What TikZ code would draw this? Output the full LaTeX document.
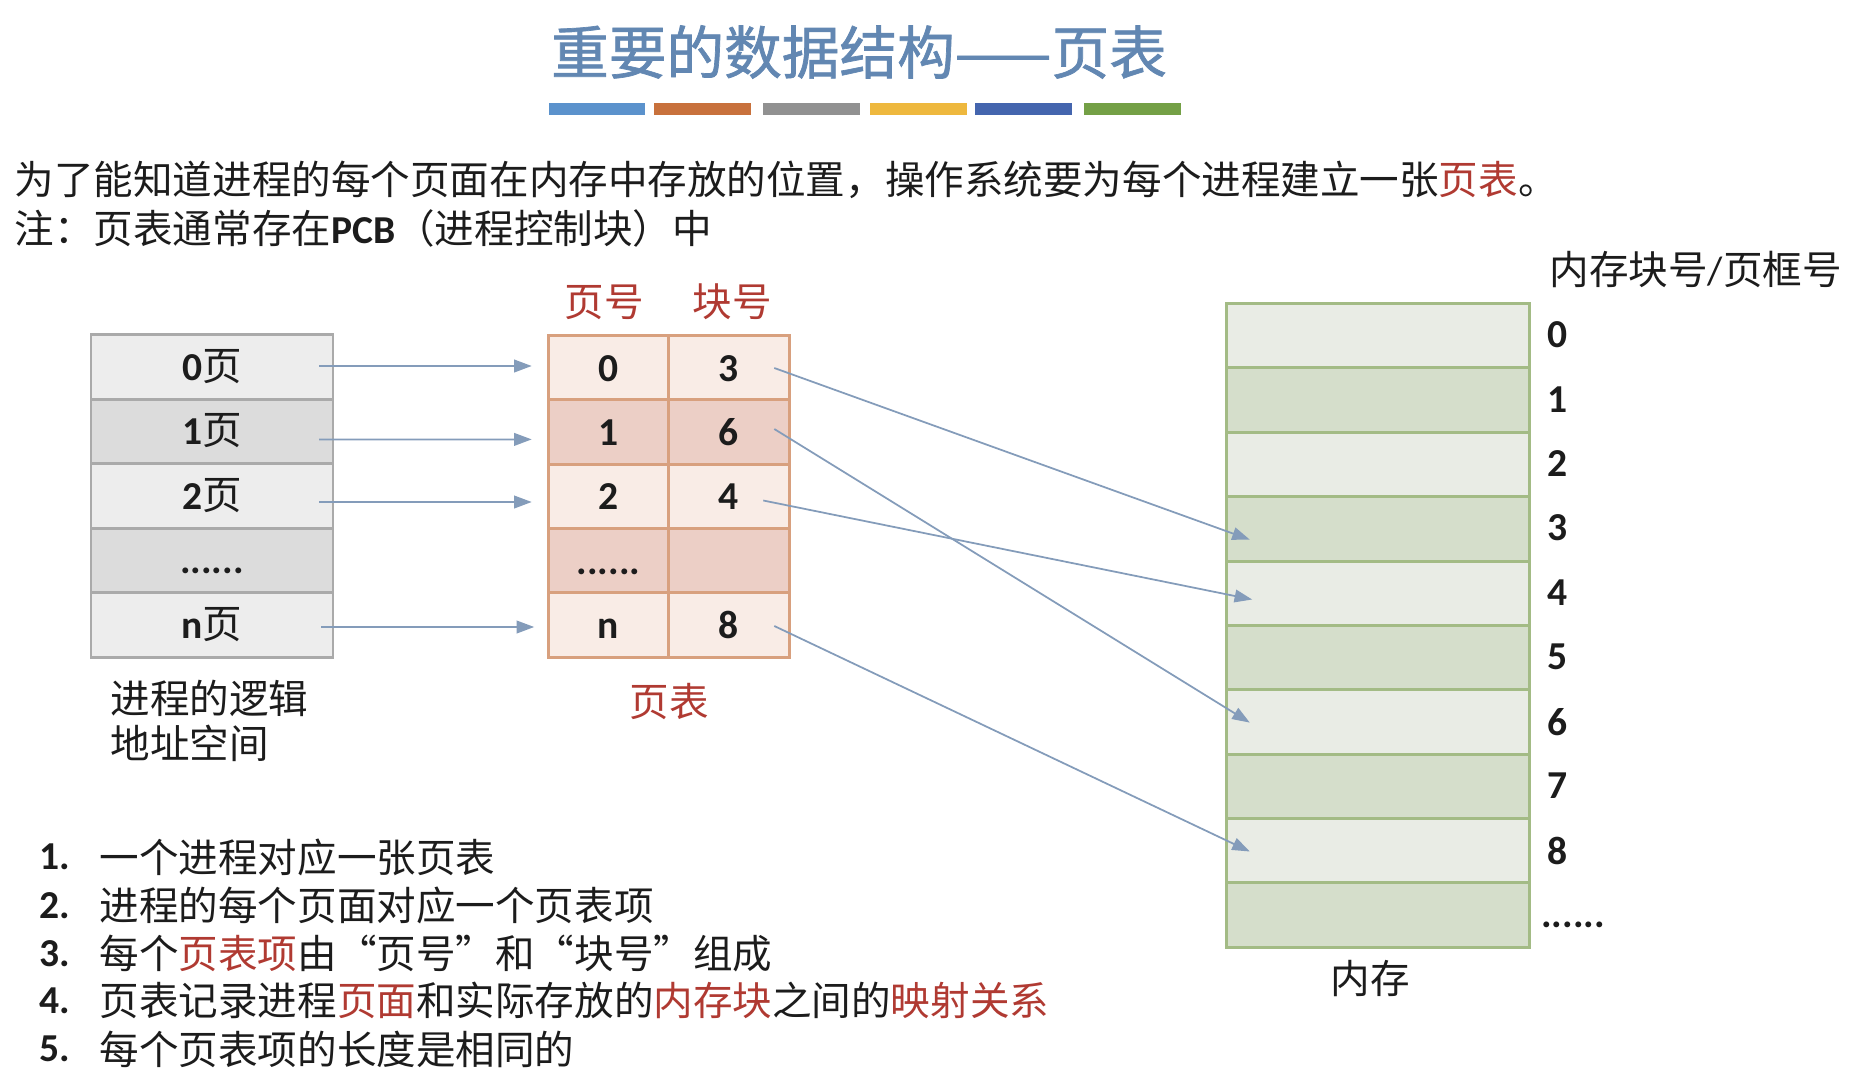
\documentclass[tikz,border=0pt]{standalone}
\usepackage{fontspec}
\setmainfont{Carlito}
\newfontfamily\cjk{Noto Sans CJK SC}
\newfontfamily\cjkhead[FakeBold=1.2]{Noto Sans CJK SC}
\usepackage{xcolor}
\usetikzlibrary{arrows.meta,positioning}
\definecolor{titleblue}{RGB}{98,135,178}
\definecolor{deepred}{RGB}{176,58,50}
\definecolor{inkblack}{RGB}{28,28,28}
\definecolor{arrowblue}{RGB}{132,156,186}
\definecolor{graylight}{RGB}{237,237,237}
\definecolor{graydark}{RGB}{220,220,220}
\definecolor{grayline}{RGB}{170,170,170}
\definecolor{pinklight}{RGB}{249,236,230}
\definecolor{pinkdark}{RGB}{236,207,198}
\definecolor{pinkline}{RGB}{216,160,126}
\definecolor{greenlight}{RGB}{233,236,229}
\definecolor{greendark}{RGB}{213,222,203}
\definecolor{greenline}{RGB}{163,187,133}
\definecolor{barone}{RGB}{91,146,204}
\definecolor{bartwo}{RGB}{200,113,60}
\definecolor{barthree}{RGB}{145,145,145}
\definecolor{barfour}{RGB}{238,184,62}
\definecolor{barfive}{RGB}{68,101,174}
\definecolor{barsix}{RGB}{116,160,70}
\newcommand{\hl}[1]{\textcolor{deepred}{#1}}
\tikzset{
  body/.style={font=\fontsize{11.25}{13}\selectfont,color=inkblack,inner sep=0pt},
  bodybold/.style={font=\fontsize{11.25}{13}\selectfont\bfseries,color=inkblack,inner sep=0pt},
  lefttext/.style={body,anchor=west},
  bartile/.style={inner sep=0pt,minimum width=0.965cm,minimum height=0.12cm},
  cell/.style={bodybold,draw,line width=0.8pt,inner sep=0pt,outer sep=0pt,text height=0.26cm,text depth=0pt},
  pagecell/.style={cell,draw=grayline,minimum width=2.42cm,minimum height=0.646cm},
  tablecell/.style={cell,draw=pinkline,minimum width=1.205cm,minimum height=0.644cm},
  memcell/.style={cell,draw=greenline,minimum width=3.035cm,minimum height=0.644cm},
  maparrow/.style={-{Triangle[length=5pt,width=3.6pt]},line width=0.5pt,arrowblue}
}
\begin{document}
\begin{tikzpicture}[x=0.01cm,y=-0.01cm]
        \useasboundingbox (0,0) rectangle (1852,1079);
        \node[font=\fontsize{16.4}{18}\selectfont\cjkhead,color=titleblue,inner sep=0pt] (title) at (859,52) {重要的数据结构——页表};
        \node[bartile,fill=barone] (bar1) at (597,109) {};
        \node[bartile,fill=bartwo] (bar2) at (702.5,109) {};
        \node[bartile,fill=barthree] (bar3) at (811.5,109) {};
        \node[bartile,fill=barfour] (bar4) at (918.5,109) {};
        \node[bartile,fill=barfive] (bar5) at (1023.5,109) {};
        \node[bartile,fill=barsix] (bar6) at (1132.5,109) {};
        \node[lefttext] (intro) at (14,179.5) {\cjk 为了能知道进程的每个页面在内存中存放的位置，操作系统要为每个进程建立一张\hl{页表}。};
        \node[lefttext] (note) at (14,228) {{\cjk 注：页表通常存在}{\bfseries PCB}{\cjk （进程控制块）中}};

        \node[pagecell,fill=graylight] (page0) at (212,367) {0{\cjk\mdseries 页}};
        \node[pagecell,fill=graydark] (page1) at (212,431.5) {1{\cjk\mdseries 页}};
        \node[pagecell,fill=graylight] (page2) at (212,496) {2{\cjk\mdseries 页}};
        \node[pagecell,fill=graydark] (pagedots) at (212,560.5) {......};
        \node[pagecell,fill=graylight] (pagen) at (212,625) {n{\cjk\mdseries 页}};
        \node[lefttext] (logic1) at (110,698) {\cjk 进程的逻辑};
        \node[lefttext] (logic2) at (110,743) {\cjk 地址空间};

        \node[body,color=deepred] (headpage) at (604.5,302) {\cjk 页号};
        \node[body,color=deepred] (headframe) at (732,302) {\cjk 块号};
        \node[tablecell,fill=pinklight] (num0) at (608.5,368) {0};
        \node[tablecell,fill=pinklight] (frame0) at (729,368) {3};
        \node[tablecell,fill=pinkdark] (num1) at (608.5,432) {1};
        \node[tablecell,fill=pinkdark] (frame1) at (729,432) {6};
        \node[tablecell,fill=pinklight] (num2) at (608.5,496.5) {2};
        \node[tablecell,fill=pinklight] (frame2) at (729,496.5) {4};
        \node[tablecell,fill=pinkdark] (numdots) at (608.5,561) {......};
        \node[tablecell,fill=pinkdark] (framedots) at (729,561) {};
        \node[tablecell,fill=pinklight] (numn) at (608.5,625) {n};
        \node[tablecell,fill=pinklight] (framen) at (729,625) {8};
        \node[body,color=deepred] (tablename) at (669,701.5) {\cjk 页表};

        \node[memcell,fill=greenlight] (mem0) at (1378,335.5) {};
        \node[memcell,fill=greendark] (mem1) at (1378,400) {};
        \node[memcell,fill=greenlight] (mem2) at (1378,464.5) {};
        \node[memcell,fill=greendark] (mem3) at (1378,529) {};
        \node[memcell,fill=greenlight] (mem4) at (1378,593.5) {};
        \node[memcell,fill=greendark] (mem5) at (1378,658) {};
        \node[memcell,fill=greenlight] (mem6) at (1378,722) {};
        \node[memcell,fill=greendark] (mem7) at (1378,786.5) {};
        \node[memcell,fill=greenlight] (mem8) at (1378,850.5) {};
        \node[memcell,fill=greendark] (memdots) at (1378,915) {};
        \node[body] (memname) at (1370,978) {\cjk 内存};
        \node[lefttext] (memhead) at (1549,269.5) {{\cjk 内存块号}/{\cjk 页框号}};
        \node[bodybold] (block0) at (1557,335) {0};
        \node[bodybold] (block1) at (1557,400) {1};
        \node[bodybold] (block2) at (1557,464) {2};
        \node[bodybold] (block3) at (1557,528) {3};
        \node[bodybold] (block4) at (1557,593) {4};
        \node[bodybold] (block5) at (1557,657) {5};
        \node[bodybold] (block6) at (1557,722) {6};
        \node[bodybold] (block7) at (1557,786) {7};
        \node[bodybold] (block8) at (1557,851) {8};
        \node[bodybold] (blockdots) at (1573,925) {......};

        \draw[maparrow] ([shift={(-14,-1)}]page0.east) -- ([shift={(-16.5,-2)}]num0.west);
        \draw[maparrow] ([shift={(-14,8)}]page1.east) -- ([shift={(-16.5,7.4)}]num1.west);
        \draw[maparrow] ([shift={(-14,6)}]page2.east) -- ([shift={(-16.5,5.5)}]num2.west);
        \draw[maparrow] ([shift={(-12,2)}]pagen.east) -- ([shift={(-14,2)}]numn.west);
        \draw[maparrow] ([shift={(-15,0)}]frame0.east) -- ([shift={(23.6,10.6)}]mem3.west);
        \draw[maparrow] ([shift={(-15,-3)}]frame1.east) -- ([shift={(23.6,0.6)}]mem6.west);
        \draw[maparrow] ([shift={(-26,4)}]frame2.east) -- ([shift={(26,6)}]mem4.west);
        \draw[maparrow] ([shift={(-15,1)}]framen.east) -- ([shift={(23.6,1)}]mem8.west);

        \node[bodybold,anchor=west] (item1no) at (39,857) {1.};
        \node[bodybold,anchor=west] (item2no) at (39,906) {2.};
        \node[bodybold,anchor=west] (item3no) at (39,953.5) {3.};
        \node[bodybold,anchor=west] (item4no) at (39,1000.5) {4.};
        \node[bodybold,anchor=west] (item5no) at (39,1049) {5.};
        \node[lefttext] (item1) at (99,857) {\cjk 一个进程对应一张页表};
        \node[lefttext] (item2) at (99,905.5) {\cjk 进程的每个页面对应一个页表项};
        \node[lefttext] (item3) at (99,953.5) {\cjk 每个\hl{页表项}由“页号”和“块号”组成};
        \node[lefttext] (item4) at (99,1000.5) {\cjk 页表记录进程\hl{页面}和实际存放的\hl{内存块}之间的\hl{映射关系}};
        \node[lefttext] (item5) at (99,1049) {\cjk 每个页表项的长度是相同的};
      \end{tikzpicture}
\end{document}
